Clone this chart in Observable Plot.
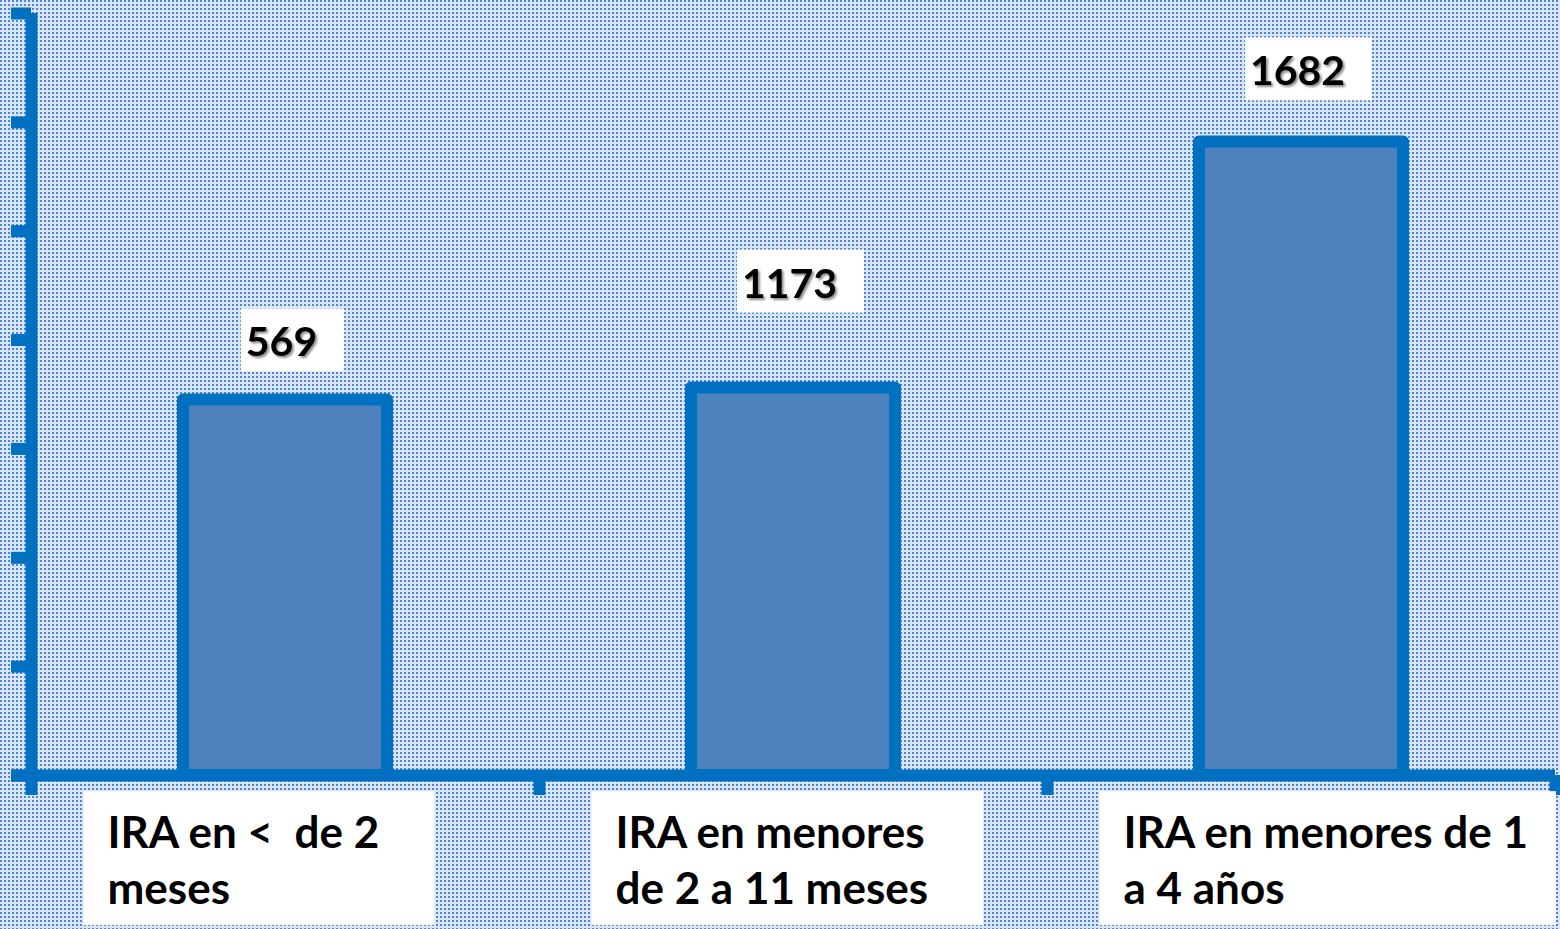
<!DOCTYPE html>
<html>
<head>
<meta charset="utf-8">
<script src="https://cdn.jsdelivr.net/npm/d3@7"></script>
<script src="https://cdn.jsdelivr.net/npm/@observablehq/plot@0.6"></script>
<style>
  html, body { margin: 0; padding: 0; }
  body {
    width: 1560px; height: 929px; overflow: hidden;
    background-color: #dce6f3;
    background-image: url("data:image/svg+xml,%3Csvg xmlns='http://www.w3.org/2000/svg' width='4' height='4'%3E%3Crect width='4' height='4' fill='%23dce6f3'/%3E%3Crect width='2' height='2' fill='%234a86dc'/%3E%3C/svg%3E");
  }
  svg { display: block; }
</style>
</head>
<body>
<script>
// ---- data ----
const categories = [
  "IRA en <  de 2\nmeses",
  "IRA en menores\nde 2 a 11 meses",
  "IRA en menores de 1\na 4 años"
];
const values = [569, 1173, 1682];          // printed labels
const barHeights = [3.45, 3.56, 5.82];     // drawn bar heights (in axis-tick units)
const labelLevels = [3.85, 4.39, 6.34];    // baseline level of the printed labels (axis-tick units)
const yTicks = [0, 1, 2, 3, 4, 5, 6, 7];

const rows = categories.map((c, i) => ({cat: c, bar: barHeights[i], value: values[i], level: labelLevels[i]}));

const W = 1560, H = 929;
const mL = 31, mR = 5, mT = 13, mB = 154;
const step = (W - mL - mR) / categories.length;
const blue = "#0070C0";
const font = "Lato, 'Open Sans', sans-serif";

const chart = Plot.plot({
  width: W, height: H,
  marginLeft: mL, marginRight: mR, marginTop: mT, marginBottom: mB,
  style: {background: "transparent", overflow: "visible"},
  x: {domain: categories, padding: 0, axis: null},
  y: {domain: [0, 7], axis: null},
  marks: [
    Plot.barY(rows, {x: "cat", y: "bar", fill: "#4F81BD", stroke: blue, strokeWidth: 12,
      strokeLinejoin: "round", insetLeft: 152, insetRight: 152}),
    Plot.axisY({ticks: yTicks, tickSize: 20, tickFormat: () => "", label: null,
      stroke: blue, strokeWidth: 12}),
    // vertical axis line (extends a little below the baseline)
    Plot.ruleX([categories[0]], {x: d => d, dx: -step / 2, y1: 7, y2: 0, insetBottom: -20,
      stroke: blue, strokeWidth: 12}),
    // horizontal axis line
    Plot.ruleY([0], {stroke: blue, strokeWidth: 12, insetLeft: -20}),
    // category boundary ticks below the axis
    Plot.ruleX(categories, {x: d => d, dx: step / 2, y1: 0, y2: 0, insetBottom: -20,
      stroke: blue, strokeWidth: 12}),
    // value labels
    Plot.text(rows, {x: "cat", y: "level", text: d => String(d.value), dx: -4,
      lineAnchor: "bottom", textAnchor: "middle",
      fontSize: 41, fontWeight: "bold", fontFamily: font, fill: "#000"}),
    // category labels
    Plot.text(rows, {x: "cat", text: "cat", frameAnchor: "bottom", lineAnchor: "top",
      textAnchor: "start", dx: -178, dy: 33, lineHeight: 1.27,
      fontSize: 44, fontWeight: "bold", fontFamily: font, fill: "#000"})
  ]
});
document.body.appendChild(chart);

// white boxes behind the label texts, sized from the rendered text
const ns = "http://www.w3.org/2000/svg";
const textGroups = chart.querySelectorAll('g[aria-label="text"]');
const pads = [
  {l: 5, r: 27, t: 8, b: 6},     // value labels
  {l: 24, r: 55, t: 14, b: 12}   // category labels
];
textGroups.forEach((g, gi) => {
  const p = pads[gi];
  const boxes = document.createElementNS(ns, "g");
  g.querySelectorAll("text").forEach(t => {
    t.style.whiteSpace = "pre";
    const bb = t.getBBox();
    const m = t.getCTM();
    const x0 = bb.x + (m ? m.e : 0), y0 = bb.y + (m ? m.f : 0);
    const r = document.createElementNS(ns, "rect");
    const left = x0 - p.l;
    const right = Math.min(W - 4, x0 + bb.width + p.r);
    r.setAttribute("x", left);
    r.setAttribute("y", y0 - p.t);
    r.setAttribute("width", right - left);
    r.setAttribute("height", bb.height + p.t + p.b);
    r.setAttribute("fill", "#fff");
    boxes.appendChild(r);
    if (gi === 0) t.style.filter = "drop-shadow(2px 2px 1.2px rgba(0,0,0,0.45))";
  });
  g.parentNode.insertBefore(boxes, g);
});
</script>
</body>
</html>
